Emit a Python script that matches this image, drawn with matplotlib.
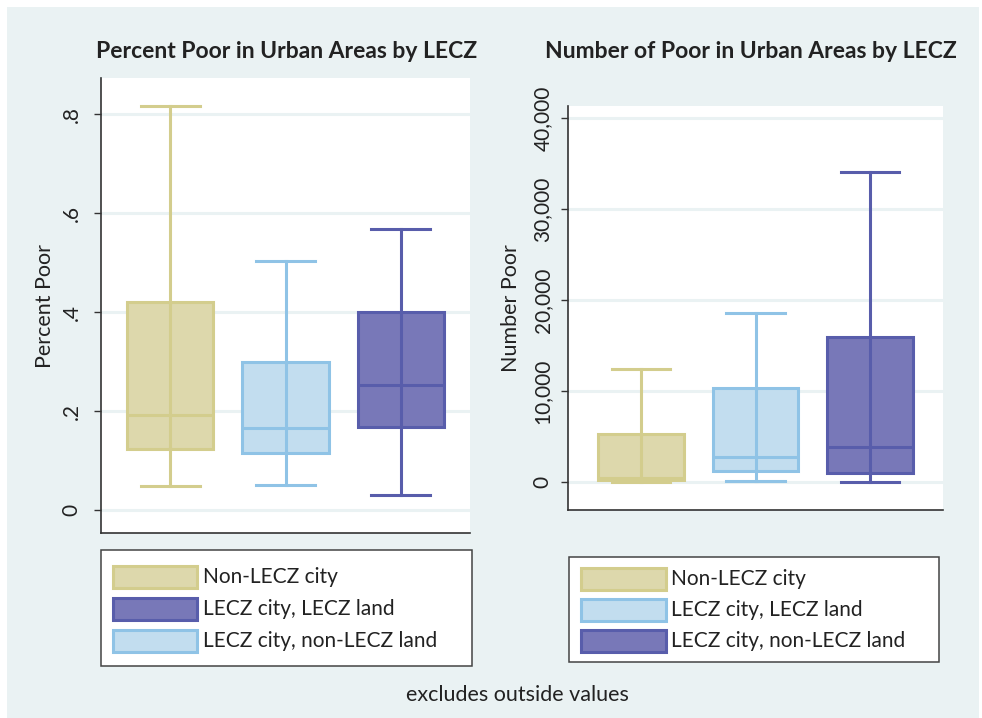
import matplotlib
matplotlib.use("Agg")
import matplotlib.pyplot as plt
from matplotlib.patches import Rectangle

plt.rcParams['font.family'] = ['Lato', 'DejaVu Sans']

# ---------------- data ----------------
positions = [1, 2, 3]
colors_fill = ['#ddd8ac', '#c2ddef', '#7878b8']
colors_edge = ['#d3cd8d', '#8fc3e6', '#585dab']

# Left panel: Percent Poor (box order: khaki, light blue, dark blue)
pct_whishi = [0.816, 0.503, 0.568]
pct_q3 = [0.420, 0.299, 0.400]
pct_med = [0.192, 0.166, 0.253]
pct_q1 = [0.123, 0.115, 0.168]
pct_whislo = [0.048, 0.050, 0.030]
pct_ticks = [0, 0.2, 0.4, 0.6, 0.8]
pct_ticklabels = ['0', '.2', '.4', '.6', '.8']

# Right panel: Number Poor
num_whishi = [12400, 18550, 34050]
num_q3 = [5250, 10300, 15900]
num_med = [400, 2750, 3850]
num_q1 = [200, 1200, 1000]
num_whislo = [0, 100, 0]
num_ticks = [0, 10000, 20000, 30000, 40000]
num_ticklabels = ['0', '10,000', '20,000', '30,000', '40,000']

left_legend_labels = ['Non-LECZ city', 'LECZ city, LECZ land', 'LECZ city, non-LECZ land']
left_legend_colors = [0, 2, 1]
right_legend_labels = ['Non-LECZ city', 'LECZ city, LECZ land', 'LECZ city, non-LECZ land']
right_legend_colors = [0, 1, 2]

BG = '#eaf2f3'
TXT = '#222222'
W, H = 982, 718

fig = plt.figure(figsize=(W / 100, H / 100), dpi=100, facecolor='white')
fig.patches.append(Rectangle((7 / W, 0), (979 - 7) / W, (718 - 7) / H,
                             transform=fig.transFigure, facecolor=BG,
                             edgecolor='none', zorder=-10))


def px_axes(x0, y0, x1, y1):
    return fig.add_axes([x0 / W, 1 - y1 / H, (x1 - x0) / W, (y1 - y0) / H])


def draw_boxes(ax, whishi, q3, med, q1, whislo):
    stats = []
    for i in range(3):
        stats.append(dict(whishi=whishi[i], q3=q3[i], med=med[i], q1=q1[i],
                          whislo=whislo[i], fliers=[]))
    for i in range(3):
        ax.bxp([stats[i]], positions=[positions[i]], widths=0.75,
               capwidths=0.51, patch_artist=True, showfliers=False,
               boxprops=dict(facecolor=colors_fill[i], edgecolor=colors_edge[i], linewidth=2.2),
               medianprops=dict(color=colors_edge[i], linewidth=2.2),
               whiskerprops=dict(color=colors_edge[i], linewidth=2.2),
               capprops=dict(color=colors_edge[i], linewidth=2.2),
               manage_ticks=False, zorder=3)
        ax.vlines(positions[i], q1[i], q3[i], color=colors_edge[i], linewidth=2.2, zorder=4)


def style_axes(ax, ticks, ticklabels, ylim, xlim, pad):
    ax.set_ylim(*ylim)
    ax.set_xlim(*xlim)
    ax.set_facecolor('white')
    ax.set_yticks(ticks)
    ax.set_yticklabels(ticklabels, rotation=90, va='center', fontsize=15, color=TXT)
    ax.set_xticks([])
    ax.tick_params(axis='y', length=5, width=1, color='#333333', pad=pad)
    for s in ['top', 'right']:
        ax.spines[s].set_visible(False)
    for s in ['left', 'bottom']:
        ax.spines[s].set_color('#333333')
        ax.spines[s].set_linewidth(1.2)
    ax.grid(axis='y', color=BG, linewidth=2.2, zorder=0)
    ax.set_axisbelow(True)


# Left panel
axL = px_axes(101, 78, 470, 533)
draw_boxes(axL, pct_whishi, pct_q3, pct_med, pct_q1, pct_whislo)
style_axes(axL, pct_ticks, pct_ticklabels, (-0.046, 0.873), (0.4, 3.6), 9)
axL.set_ylabel('Percent Poor', fontsize=15.5, color=TXT)
axL.yaxis.set_label_coords(-0.125, 0.5)
fig.text(287 / W, 1 - 52 / H, 'Percent Poor in Urban Areas by LECZ', ha='center',
         va='center', fontsize=16.5, fontweight='bold', color=TXT)

# Right panel
axR = px_axes(568, 106, 943, 510)
draw_boxes(axR, num_whishi, num_q3, num_med, num_q1, num_whislo)
style_axes(axR, num_ticks, num_ticklabels, (-3077, 41319), (0.36, 3.64), 6)
axR.set_ylabel('Number Poor', fontsize=15.5, color=TXT)
axR.yaxis.set_label_coords(-0.125, 0.5)
fig.text(751 / W, 1 - 52 / H, 'Number of Poor in Urban Areas by LECZ', ha='center',
         va='center', fontsize=16.5, fontweight='bold', color=TXT)


def draw_legend(box, patch_x, text_x, rows, labels, cidx):
    x0, y0, x1, y1 = box
    fig.patches.append(Rectangle((x0 / W, 1 - y1 / H), (x1 - x0) / W, (y1 - y0) / H,
                                 transform=fig.transFigure, facecolor='white',
                                 edgecolor='#444444', linewidth=1.1, zorder=1))
    for (ry, lab, ci) in zip(rows, labels, cidx):
        fig.patches.append(Rectangle((patch_x[0] / W, 1 - (ry + 11) / H),
                                     (patch_x[1] - patch_x[0]) / W, 22 / H,
                                     transform=fig.transFigure, facecolor=colors_fill[ci],
                                     edgecolor=colors_edge[ci], linewidth=2.2, zorder=2))
        fig.text(text_x / W, 1 - ry / H, lab, ha='left', va='center',
                 fontsize=15, color=TXT, zorder=3)


draw_legend((101, 550, 472, 666), (113, 197), 203, [577, 609, 641],
            left_legend_labels, left_legend_colors)
draw_legend((569, 557, 939, 662), (581, 666), 671, [579, 610, 641],
            right_legend_labels, right_legend_colors)

fig.text(517 / W, 1 - 695 / H, 'excludes outside values', ha='center', va='center',
         fontsize=15.5, color=TXT)

fig.savefig('out.png', dpi=100, facecolor='white')
